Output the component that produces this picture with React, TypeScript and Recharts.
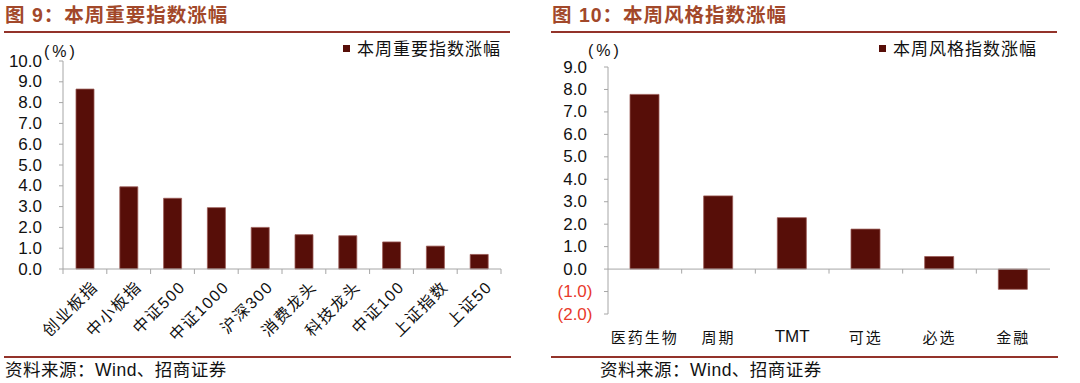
import React from 'react';
import { BarChart, Bar, XAxis, YAxis, ReferenceLine } from 'recharts';

// 图 9 本周重要指数涨幅
const INDEX_CATS = ['创业板指', '中小板指', '中证500', '中证1000', '沪深300', '消费龙头', '科技龙头', '中证100', '上证指数', '上证50'];
const INDEX_VALUES = [8.65, 3.95, 3.4, 2.95, 2.0, 1.65, 1.6, 1.3, 1.1, 0.7];
const INDEX_TICKS = [0, 1, 2, 3, 4, 5, 6, 7, 8, 9, 10];

// 图 10 本周风格指数涨幅
const STYLE_CATS = ['医药生物', '周期', 'TMT', '可选', '必选', '金融'];
const STYLE_VALUES = [7.78, 3.26, 2.29, 1.78, 0.56, -0.9];
const STYLE_TICKS = [-2, -1, 0, 1, 2, 3, 4, 5, 6, 7, 8, 9];

const indexData = INDEX_CATS.map((name, i) => ({ name, value: INDEX_VALUES[i] }));
const styleData = STYLE_CATS.map((name, i) => ({ name, value: STYLE_VALUES[i] }));

const FONT = '"Liberation Sans", Arial, "Noto Sans CJK SC", sans-serif';
const CJK = '"Noto Sans CJK SC", "Liberation Sans", sans-serif';
const BAR = '#570E08';
const AXIS = '#A6A6A6';
const TITLE = '#A2482A';
const RULE = '#93332A';

const YTick = (props: any) => {
  const { x, y, payload } = props;
  const v = payload.value as number;
  const neg = v < 0;
  const label = neg ? `(${Math.abs(v).toFixed(1)})` : v.toFixed(1);
  return (
    <text
      x={neg ? x + 5.5 : x}
      y={y}
      textAnchor="end"
      dominantBaseline="central"
      fontSize={17}
      fontFamily={FONT}
      fill={neg ? '#E8392B' : '#111'}
    >
      {label}
    </text>
  );
};

const SlantTick = (props: any) => {
  const { x, y, payload } = props;
  const ax = x + 6;
  const ay = y + 3;
  return (
    <text
      x={ax}
      y={ay}
      textAnchor="end"
      dominantBaseline="hanging"
      transform={`rotate(-45 ${ax} ${ay})`}
      fontSize={16}
      fontFamily={FONT}
      letterSpacing={1.5}
      fill="#111"
    >
      {payload.value}
    </text>
  );
};

const FlatTick = (props: any) => {
  const { x, y, payload } = props;
  const latin = /^[A-Z]+$/.test(payload.value);
  return (
    <text
      x={x}
      y={y + 14}
      textAnchor="middle"
      dominantBaseline="central"
      fontSize={latin ? 17 : 15}
      fontFamily={latin ? FONT : CJK}
      letterSpacing={latin ? 0 : 2}
      fill="#111"
    >
      {payload.value}
    </text>
  );
};

const Header = ({ left, width, text }: { left: number; width: number; text: string }) => (
  <>
    <div
      style={{
        position: 'absolute', left, top: 4, fontFamily: FONT, fontWeight: 'bold',
        fontSize: 19.5, lineHeight: '22px', color: TITLE, whiteSpace: 'nowrap', letterSpacing: 1,
      }}
    >
      {text}
    </div>
    <div style={{ position: 'absolute', left: left - 1, top: 31, width, height: 2, background: RULE }} />
  </>
);

const Footer = ({ left, textLeft, width }: { left: number; textLeft: number; width: number }) => (
  <>
    <div style={{ position: 'absolute', left, top: 356, width, height: 1.5, background: RULE }} />
    <div
      style={{
        position: 'absolute', left: textLeft, top: 359, fontFamily: FONT, fontSize: 17.5,
        lineHeight: '22px', color: '#111', whiteSpace: 'nowrap', letterSpacing: 0.5,
      }}
    >
      资料来源：Wind、招商证券
    </div>
  </>
);

const LegendBox = ({ left, text }: { left: number; text: string }) => (
  <div
    style={{
      position: 'absolute', left, top: 38, display: 'flex', alignItems: 'center',
      fontFamily: CJK, fontSize: 17, lineHeight: '20px', letterSpacing: 1, color: '#111', whiteSpace: 'nowrap',
    }}
  >
    <span style={{ display: 'inline-block', width: 7, height: 7, background: BAR, marginRight: 7 }} />
    {text}
  </div>
);

const Unit = ({ left, top }: { left: number; top: number }) => (
  <div
    style={{
      position: 'absolute', left, top, fontFamily: FONT, fontSize: 16, lineHeight: '18px',
      color: '#111', letterSpacing: 3, whiteSpace: 'nowrap',
    }}
  >
    (%)
  </div>
);

export default function App() {
  return (
    <div style={{ position: 'absolute', left: 0, top: 0, width: 1080, height: 383, background: '#fff', overflow: 'hidden' }}>
      <Header left={5} width={506} text="图 9：本周重要指数涨幅" />
      <Header left={552} width={506} text="图 10：本周风格指数涨幅" />

      <div style={{ position: 'absolute', left: 0, top: 0 }}>
        <BarChart width={540} height={383} data={indexData} margin={{ top: 61, right: 39, left: 0, bottom: 54 }}>
          <YAxis
            type="number"
            domain={[0, 10]}
            ticks={INDEX_TICKS}
            width={63}
            tickSize={4}
            tickMargin={17}
            axisLine={{ stroke: AXIS }}
            tickLine={{ stroke: AXIS }}
            tick={YTick}
            interval={0}
          />
          <XAxis
            dataKey="name"
            height={60}
            interval={0}
            axisLine={{ stroke: AXIS }}
            tickLine={false}
            tick={SlantTick}
          />
          {INDEX_CATS.map((c) => (
            <ReferenceLine
              key={c}
              segment={[{ x: c, y: 0 }, { x: c, y: -0.24 }]}
              position="start"
              ifOverflow="visible"
              stroke={AXIS}
            />
          ))}
          <ReferenceLine
            segment={[{ x: INDEX_CATS[INDEX_CATS.length - 1], y: 0 }, { x: INDEX_CATS[INDEX_CATS.length - 1], y: -0.24 }]}
            position="end"
            ifOverflow="visible"
            stroke={AXIS}
          />
          <Bar dataKey="value" name="本周重要指数涨幅" fill={BAR} stroke="#9A5A55" strokeWidth={0.8} barSize={18} isAnimationActive={false} />
        </BarChart>
      </div>

      <div style={{ position: 'absolute', left: 540, top: 0 }}>
        <BarChart width={540} height={383} data={styleData} margin={{ top: 67, right: 30, left: 0, bottom: 39 }}>
          <YAxis
            type="number"
            domain={[-2, 9]}
            ticks={STYLE_TICKS}
            width={68}
            tickSize={4}
            tickMargin={17}
            axisLine={{ stroke: AXIS }}
            tickLine={{ stroke: AXIS }}
            tick={YTick}
            interval={0}
          />
          <XAxis dataKey="name" height={30} interval={0} axisLine={false} tickLine={false} tick={FlatTick} />
          <ReferenceLine y={0} stroke={AXIS} />
          {STYLE_CATS.slice(1).map((c) => (
            <ReferenceLine
              key={c}
              segment={[{ x: c, y: 0 }, { x: c, y: -0.2 }]}
              position="start"
              ifOverflow="visible"
              stroke={AXIS}
            />
          ))}
          <Bar dataKey="value" name="本周风格指数涨幅" fill={BAR} stroke="#9A5A55" strokeWidth={0.8} barSize={29} isAnimationActive={false} />
        </BarChart>
      </div>

      <LegendBox left={343} text="本周重要指数涨幅" />
      <LegendBox left={879} text="本周风格指数涨幅" />
      <Unit left={44} top={43} />
      <Unit left={588} top={42} />

      <Footer left={4} textLeft={5} width={507} />
      <Footer left={551} textLeft={600} width={507} />
    </div>
  );
}
